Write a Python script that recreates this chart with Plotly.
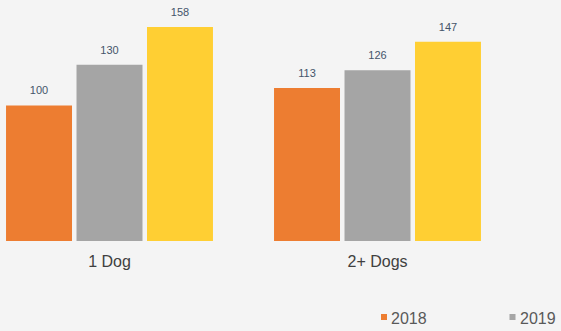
import plotly.graph_objects as go

categories = ["1 Dog", "2+ Dogs"]
series_names = ["2018", "2019", "2020"]
values_2018 = [100, 113]
values_2019 = [130, 126]
values_2020 = [158, 147]
series_values = [values_2018, values_2019, values_2020]
colors = ["#ED7D31", "#A5A5A5", "#FFCF33"]

W, H = 561, 331
BOTTOM = 90
PLOT_H = H - BOTTOM
BARGAP = 0.211
fig = go.Figure()
for name, vals, col in zip(series_names, series_values, colors):
    fig.add_trace(go.Bar(
        x=categories, y=vals, name=name, marker=dict(color=col, line=dict(width=0)),
        offsetgroup=name, showlegend=False,
    ))
for name, vals in zip(series_names, series_values):
    fig.add_trace(go.Scatter(
        x=categories, y=vals, name=name, mode="markers+text", offsetgroup=name,
        marker=dict(size=12, color="rgba(0,0,0,0)"),
        text=[str(v) for v in vals], textposition="top center", cliponaxis=False,
        textfont=dict(family="Liberation Sans, Arial, sans-serif", size=11, color="#44546A"),
        showlegend=False, hoverinfo="skip",
    ))

# legend drawn as small squares + text, bottom right
leg_x0 = 381
leg_step = 128.5
shapes = []
annotations = []
for i, (name, col) in enumerate(zip(series_names, colors)):
    sx = leg_x0 + i * leg_step
    if sx > W:
        continue
    shapes.append(dict(type="rect", xref="paper", yref="paper",
                       x0=sx / W, x1=(sx + 6) / W,
                       y0=(H - 320 - BOTTOM) / PLOT_H, y1=(H - 314 - BOTTOM) / PLOT_H,
                       fillcolor=col, line=dict(width=0)))
    annotations.append(dict(xref="paper", yref="paper", x=(sx + 8) / W, y=(H - 318 - BOTTOM) / PLOT_H,
                            xanchor="left", yanchor="middle", showarrow=False, text=name,
                            font=dict(family="Liberation Sans, Arial, sans-serif", size=16, color="#595959")))

fig.update_layout(
    width=W, height=H,
    margin=dict(l=0, r=0, t=0, b=BOTTOM, pad=0),
    paper_bgcolor="#F4F4F4", plot_bgcolor="#F4F4F4",
    barmode="group", bargap=BARGAP, bargroupgap=0.064,
    scattermode="group", scattergap=BARGAP,
    shapes=shapes, annotations=annotations,
    xaxis=dict(range=[-0.4086, 1.6847], showgrid=False, zeroline=False, showline=False,
               ticks="outside", ticklen=6, tickcolor="rgba(0,0,0,0)",
               tickfont=dict(family="Liberation Sans, Arial, sans-serif", size=16, color="#404040")),
    yaxis=dict(range=[0, PLOT_H / 1.355], visible=False),
    showlegend=False,
)

fig.write_html("out.html")
